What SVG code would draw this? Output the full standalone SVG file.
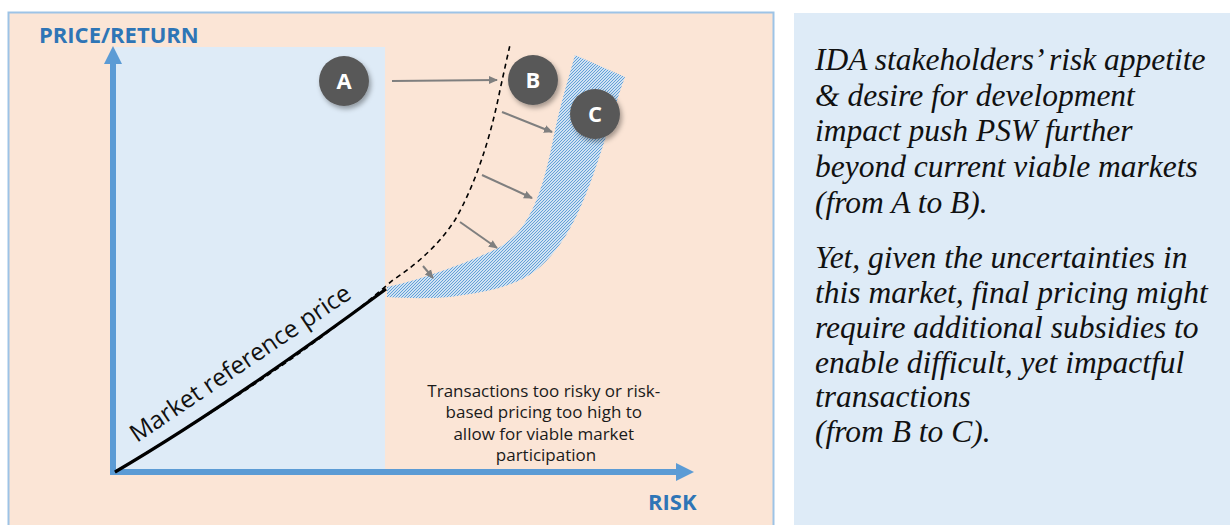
<svg xmlns="http://www.w3.org/2000/svg" width="1230" height="525" viewBox="0 0 1230 525">
<style>
.ttl{font-family:"Open Sans","Liberation Sans",sans-serif;font-weight:bold;font-size:22px;fill:#2E75B6}
.lbl{font-family:"Open Sans","Liberation Sans",sans-serif;font-size:17px;fill:#1a1a1a}
.mrp{font-family:"Open Sans","Liberation Sans",sans-serif;font-size:24.5px;fill:#111}
.note{font-family:"Liberation Serif","Times New Roman",serif;font-style:italic;font-size:31.5px;fill:#111}
.circ{fill:#595959;filter:url(#sh)}
.ctxt{font-family:"Open Sans","Liberation Sans",sans-serif;font-weight:bold;font-size:22px;fill:#fff;text-anchor:middle}
.garrow{stroke:#7F7F7F;stroke-width:2;fill:none;marker-end:url(#ga)}
</style>
<defs>
<pattern id="hatch" width="3" height="3" patternUnits="userSpaceOnUse">
<rect width="3" height="3" fill="#ffffff"/>
<path d="M-1,1 L1,-1 M0,3 L3,0 M2,4 L4,2" stroke="#5B9BD5" stroke-width="1.1"/>
</pattern>
<marker id="ga" markerWidth="10" markerHeight="10" refX="8" refY="5" orient="auto" markerUnits="userSpaceOnUse">
<path d="M0,1 L9,5 L0,9 Z" fill="#7F7F7F"/>
</marker>
<filter id="sh" x="-30%" y="-30%" width="170%" height="170%">
<feDropShadow dx="2" dy="3" stdDeviation="2.5" flood-color="#000" flood-opacity="0.35"/>
</filter>
</defs>
<g id="background">
<rect x="8.5" y="12.5" width="765" height="520" fill="#FBE5D6" stroke="#9DC3E6" stroke-width="2"/>
<rect x="115" y="47" width="270" height="425" fill="#DEEBF7"/>
<rect x="794" y="13" width="440" height="520" fill="#DEEBF7"/>
</g>
<g id="band">
<path d="M387,287 C420,280 470,262 500,247 C525,232 540,205 553,140 C560,105 568,80 575,55 L625,77 C618,95 610,125 600,155 C585,200 570,240 540,267 C520,285 490,292 450,297 C425,299 405,298 387,297 Z" fill="url(#hatch)"/>
</g>
<g id="axes">
<line x1="113" y1="475" x2="113" y2="62" stroke="#5B9BD5" stroke-width="6"/>
<path d="M104,64 L113,46 L122,64 Z" fill="#5B9BD5"/>
<line x1="110" y1="472" x2="678" y2="472" stroke="#5B9BD5" stroke-width="6"/>
<path d="M676,463 L694,472 L676,481 Z" fill="#5B9BD5"/>
<text class="ttl" x="39" y="43">PRICE/RETURN</text>
<text class="ttl" x="648" y="510">RISK</text>
</g>
<g id="curves">
<path d="M115,472 C200,420 300,360 393,280 C420,262 440,243 455,220 C475,185 490,140 500,90 C504,72 507,58 510,45" fill="none" stroke="#000" stroke-width="1.6" stroke-dasharray="5,4"/>
<path d="M115,472 C200,422 290,360 386,289" fill="none" stroke="#000" stroke-width="3.2"/>
<text class="mrp" transform="translate(137,443) rotate(-34)">Market reference price</text>
</g>
<g id="connectors">
<line class="garrow" x1="392" y1="81" x2="497" y2="80"/>
<line class="garrow" x1="502" y1="112" x2="552" y2="132"/>
<line class="garrow" x1="482" y1="175" x2="532" y2="198"/>
<line class="garrow" x1="460" y1="222" x2="497" y2="248"/>
<line class="garrow" x1="423" y1="266" x2="433" y2="278"/>
</g>
<g id="node-A"><circle class="circ" cx="344" cy="81" r="25"/><text class="ctxt" x="344" y="89">A</text></g>
<g id="node-B"><circle class="circ" cx="533" cy="80" r="25"/><text class="ctxt" x="533" y="88">B</text></g>
<g id="node-C"><circle class="circ" cx="595" cy="114" r="25"/><text class="ctxt" x="595" y="122">C</text></g>
<g id="label-bottom">
<text class="lbl" text-anchor="middle">
<tspan x="546" y="397">Transactions too risky or risk-</tspan>
<tspan x="546" y="418">based pricing too high to</tspan>
<tspan x="546" y="440">allow for viable market</tspan>
<tspan x="546" y="461">participation</tspan>
</text>
</g>
<g id="note">
<text class="note">
<tspan x="815" y="70">IDA stakeholders’ risk appetite</tspan>
<tspan x="815" y="106">&amp; desire for development</tspan>
<tspan x="815" y="141">impact push PSW further</tspan>
<tspan x="815" y="177">beyond current viable markets</tspan>
<tspan x="815" y="213">(from A to B).</tspan>
<tspan x="815" y="268">Yet, given the uncertainties in</tspan>
<tspan x="815" y="303">this market, final pricing might</tspan>
<tspan x="815" y="338">require additional subsidies to</tspan>
<tspan x="815" y="373">enable difficult, yet impactful</tspan>
<tspan x="815" y="407">transactions</tspan>
<tspan x="815" y="442">(from B to C).</tspan>
</text>
</g>
</svg>
